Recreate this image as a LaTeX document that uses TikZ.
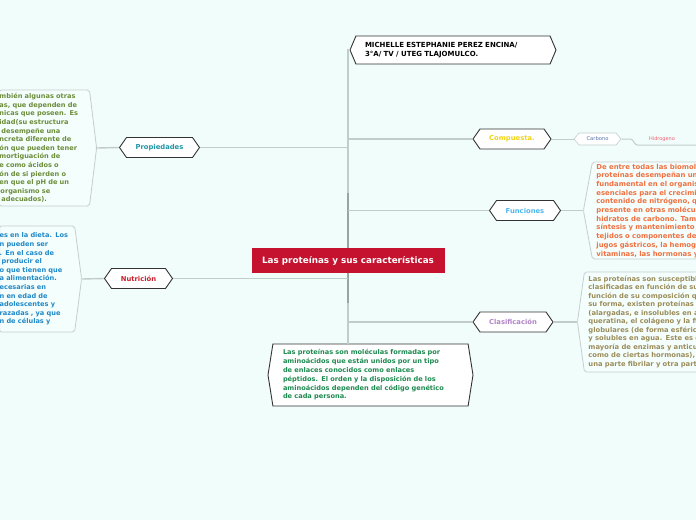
\documentclass[tikz,border=0pt]{standalone}
\usepackage{fontspec}
\setmainfont{DejaVu Sans}
\usetikzlibrary{shapes.symbols}
\definecolor{bgcol}{HTML}{F0FDFB}
\definecolor{rootred}{HTML}{C4122F}
\definecolor{branchline}{HTML}{C2CCCC}
\definecolor{trunkline}{HTML}{9CA3A3}
\definecolor{panelline}{HTML}{C6CDCD}
\definecolor{panelfill}{HTML}{F4FFFD}
\definecolor{topicline}{HTML}{333333}
\definecolor{propcol}{HTML}{2096A6}
\definecolor{nutcol}{HTML}{C8202E}
\definecolor{compcol}{HTML}{F0D41C}
\definecolor{funccol}{HTML}{4FB7EE}
\definecolor{clascol}{HTML}{B283C8}
\definecolor{carbcol}{HTML}{5874A8}
\definecolor{hidrocol}{HTML}{F06070}
\definecolor{proptext}{HTML}{6C8C3A}
\definecolor{nuttext}{HTML}{2088C8}
\definecolor{functext}{HTML}{F07040}
\definecolor{clastext}{HTML}{9C8C5A}
\definecolor{deftext}{HTML}{1E8A50}
\tikzset{
  topic/.style={shape=signal, signal to=east and west, signal pointer angle=110,
    draw=topicline, fill=white, line width=0.9pt, minimum height=20pt,
    inner xsep=2pt, inner ysep=0pt, font=\fontsize{6.8}{8}\selectfont\bfseries},
  panel/.style={shape=signal, draw=panelline, fill=panelfill, line width=0.8pt,
    rounded corners=2pt, align=left, inner ysep=0pt,
    font=\fontsize{6.6}{8.6}\selectfont\bfseries},
  branch/.style={draw=branchline, line width=1.4pt},
  trunk/.style={draw=trunkline, line width=2pt},
}
\begin{document}
\begin{tikzpicture}[x=1pt,y=-1pt]
\useasboundingbox[fill=bgcol] (0,0) rectangle (696,520);
\clip (0,0) rectangle (696,520);

\node[fill=rootred, text=white, minimum width=193pt, minimum height=25pt,
  font=\fontsize{8.8}{10}\selectfont\bfseries] (root) at (348,260.5)
  {Las proteínas y sus características};

\node[topic, signal pointer angle=134, minimum width=206pt, minimum height=28pt,
  text width=176pt, inner xsep=9pt, align=left,
  font=\fontsize{7}{8.6}\selectfont\bfseries] (mich) at (453,50)
  {MICHELLE ESTEPHANIE PEREZ ENCINA/\\3°A/ TV / UTEG TLAJOMULCO.};

\node[topic, text=propcol, minimum width=80pt] (prop) at (159.5,147.5) {Propiedades};
\node[topic, text=nutcol, minimum width=68pt] (nut) at (138.5,278.5) {Nutrición};
\node[topic, text=compcol, minimum width=78pt] (comp) at (512,139) {Compuesta.};
\node[topic, text=funccol, minimum width=71pt] (func) at (525,210.5) {Funciones};
\node[topic, text=clascol, minimum width=80pt] (clas) at (513,322) {Clasificación};

\node[topic, draw=panelline, line width=0.6pt, signal pointer angle=100,
  minimum width=47pt, minimum height=12pt, text=carbcol,
  font=\fontsize{5.2}{6}\selectfont] (carb) at (597.5,139) {Carbono};
\node[text=hidrocol, font=\fontsize{5}{6}\selectfont, inner sep=1pt] (hidro) at (662,139) {Hidrogeno};
\coordinate (hidroend) at (700,145);

\node[topic, signal pointer angle=162, minimum width=205pt, minimum height=62pt,
  text width=175pt, align=left, text=deftext,
  font=\fontsize{6.6}{8.8}\selectfont\bfseries] (defn) at (370.5,375)
  {Las proteínas son moléculas formadas por\\
   aminoácidos que están unidos por un tipo\\
   de enlaces conocidos como enlaces\\
   péptidos. El orden y la disposición de los\\
   aminoácidos dependen del código genético\\
   de cada persona.};

\node[panel, signal to=east, signal pointer angle=166, minimum height=116pt,
  text width=90pt, inner xsep=0pt, anchor=east, text=proptext] (proptxt) at (97,148)
  {mbién algunas otras\\
   as, que dependen de\\
   nicas que poseen. Es\\
   idad(su estructura\\
   \hspace*{2pt}desempeñe una\\
   ncreta diferente de\\
   ón que pueden tener\\
   mortiguación de\\
   e como ácidos o\\
   ón de si pierden o\\
   en que el pH de un\\
   \hspace*{1pt}organismo se\\
   \hspace*{2pt}adecuados).};

\node[panel, signal to=east, signal pointer angle=165, minimum height=106pt,
  text width=75pt, inner xsep=0pt, anchor=east, text=nuttext] (nuttxt) at (82,279)
  {es en la dieta. Los\\
   n pueden ser\\
   . En el caso de\\
   \hspace*{2pt}producir el\\
   o que tienen que\\
   a alimentación.\\
   ecesarias en\\
   n en edad de\\
   adolescentes y\\
   razadas , ya que\\
   n de células y};

\node[panel, signal to=west, signal pointer angle=159, minimum height=97pt,
  text width=200pt, inner xsep=4pt, anchor=west, text=functext,
  font=\fontsize{6.9}{8.7}\selectfont\bfseries] (functxt) at (583,210.5)
  {De entre todas las biomoléculas\\
   proteínas desempeñan un papel\\
   fundamental en el organismo\\
   esenciales para el crecimiento\\
   contenido de nitrógeno, que\\
   presente en otras moléculas\\
   hidratos de carbono. También\\
   síntesis y mantenimiento de\\
   tejidos o componentes del\\
   jugos gástricos, la hemoglobina\\
   vitaminas, las hormonas y};

\node[panel, signal to=west, signal pointer angle=164, minimum height=100pt,
  text width=200pt, inner xsep=4pt, anchor=west, text=clastext,
  font=\fontsize{6.8}{8.5}\selectfont\bfseries] (clastxt) at (577,322)
  {Las proteínas son susceptibles\\
   clasificadas en función de su\\
   función de su composición química\\
   su forma, existen proteínas fibrosas\\
   (alargadas, e insolubles en agua\\
   queratina, el colágeno y la fibrina\\
   globulares (de forma esférica\\
   y solubles en agua. Este es el caso\\
   mayoría de enzimas y anticuerpos\\
   como de ciertas hormonas), y mixtas\\
   una parte fibrilar y otra parte};

\draw[branch] (mich.west) -- (mich.west -| root.north) -- (root.north);
\draw[branch] (root.south) -- (root.south |- defn.north);
\draw[trunk] (root.north) -- ++(0,-55);
\draw[trunk] (root.south) -- ++(0,30);
\draw[branch] (prop.east) -- (prop.east -| root.north);
\draw[branch] (nut.east) -- (nut.east -| root.north);
\draw[branch] (comp.west) -- (comp.west -| root.north);
\draw[branch] (func.west) -- (func.west -| root.north);
\draw[branch] (clas.west) -- (clas.west -| root.north);
\draw[branch] (proptxt.east) -- (prop.west);
\draw[branch] (nuttxt.east) -- (nut.west);
\draw[branch] (func.east) -- (functxt.west);
\draw[branch] (clas.east) -- (clastxt.west);
\draw[branch, line width=1pt] (comp.east) -- (carb.west);
\draw[branch, line width=1pt] (carb.east) -- ++(9,0) to[out=0,in=180] ++(7,6) -- (hidroend);
\end{tikzpicture}
\end{document}
